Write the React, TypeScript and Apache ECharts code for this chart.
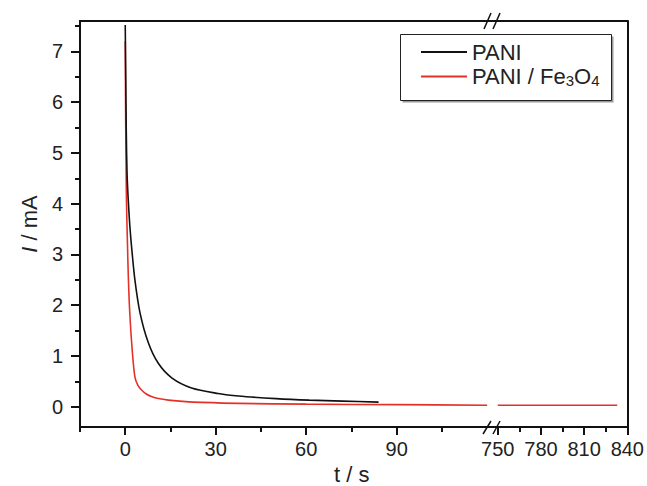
import React, { useEffect, useRef } from "react";
import * as echarts from "echarts";

// ---- data ----
const paniT = [0, 0.15, 0.35, 0.6, 1.0, 1.5, 2.1, 3.2, 4.9, 7.6, 10.9, 15.4, 22, 30.8, 37.5, 50, 61, 72, 84];
const paniI = [7.52, 6.6, 5.4, 4.6, 4.07, 3.58, 3.15, 2.5, 1.85, 1.27, 0.86, 0.57, 0.37, 0.26, 0.21, 0.16, 0.13, 0.11, 0.09];

const feT = [0, 0.15, 0.4, 0.7, 1.0, 1.5, 2.3, 3.2, 4.2, 5.4, 7, 8.7, 11, 14.3, 20, 25.3, 37.5, 60, 90, 120];
const feI = [7.2, 5.6, 4.07, 3.3, 2.6, 1.85, 1.12, 0.59, 0.42, 0.33, 0.25, 0.2, 0.16, 0.13, 0.1, 0.085, 0.065, 0.05, 0.04, 0.03];

const feT2 = [750, 790, 833];
const feI2 = [0.03, 0.03, 0.03];

const xLeftMajor = [0, 30, 60, 90];
const xLeftMinor = [-15, 15, 45, 75, 105];
const xRightMajor = [750, 780, 810, 840];
const xRightMinor = [765, 795, 825];
const yMajor = [0, 1, 2, 3, 4, 5, 6, 7];
const yMinor = [0.5, 1.5, 2.5, 3.5, 4.5, 5.5, 6.5, 7.5];

const FONT = "Liberation Sans, Arial, Helvetica, sans-serif";
const AX = "#111";
const TXT = "#222";
const RED = "#e5302a";

export default function App() {
  const ref = useRef<HTMLDivElement>(null);
  useEffect(() => {
    if (!ref.current) return;
    const chart = echarts.init(ref.current, undefined, { renderer: "svg" });
    const zip = (a: number[], b: number[]) => a.map((t, i) => [t, b[i]]);
    const line = { lineStyle: { color: AX, width: 2 }, onZero: false };
    const xMain = (grid: number, min: number, max: number, vals: number[]) => ({
      type: "value", gridIndex: grid, min, max, position: "bottom",
      axisLine: { show: true, ...line },
      axisTick: { show: true, customValues: vals, length: 8, inside: false, lineStyle: { color: AX, width: 2 } },
      axisLabel: { show: true, customValues: vals, fontSize: 20, color: TXT, fontFamily: FONT, margin: 12 },
      splitLine: { show: false },
    });
    const xMinor = (grid: number, min: number, max: number, vals: number[]) => ({
      type: "value", gridIndex: grid, min, max, position: "bottom",
      axisLine: { show: false, onZero: false },
      axisTick: { show: true, customValues: vals, length: 5, inside: false, lineStyle: { color: AX, width: 2 } },
      axisLabel: { show: false },
      splitLine: { show: false },
    });
    const xTop = (grid: number, min: number, max: number) => ({
      type: "value", gridIndex: grid, min, max, position: "top",
      axisLine: { show: true, ...line },
      axisTick: { show: false }, axisLabel: { show: false }, splitLine: { show: false },
    });
    const L0 = -15, L1 = 121.6, R0 = 746, R1 = 840;
    chart.setOption({
      animation: false,
      grid: [
        { left: 80, top: 21, width: 412, height: 406 },
        { left: 492, top: 21, width: 140, height: 406 },
      ],
      xAxis: [
        xMain(0, L0, L1, xLeftMajor),
        xMinor(0, L0, L1, xLeftMinor),
        xTop(0, L0, L1),
        xMain(1, R0, R1, xRightMajor),
        xMinor(1, R0, R1, xRightMinor),
        xTop(1, R0, R1),
      ],
      yAxis: [
        {
          type: "value", gridIndex: 0, min: -0.4, max: 7.6, position: "left",
          axisLine: { show: true, ...line },
          axisTick: { show: true, customValues: yMajor, length: 9, inside: false, lineStyle: { color: AX, width: 2 } },
          axisLabel: { show: true, customValues: yMajor, fontSize: 20, color: TXT, fontFamily: FONT, margin: 17 },
          splitLine: { show: false },
          name: "{i|I} / mA", nameLocation: "middle", nameGap: 30, nameRotate: 90,
          nameTextStyle: {
            fontSize: 22, color: TXT, fontFamily: FONT,
            rich: { i: { fontStyle: "italic", fontSize: 22, color: TXT, fontFamily: FONT } },
          },
        },
        {
          type: "value", gridIndex: 0, min: -0.4, max: 7.6, position: "left",
          axisLine: { show: false, onZero: false },
          axisTick: { show: true, customValues: yMinor, length: 5, inside: false, lineStyle: { color: AX, width: 2 } },
          axisLabel: { show: false }, splitLine: { show: false },
        },
        {
          type: "value", gridIndex: 1, min: -0.4, max: 7.6, position: "right",
          axisLine: { show: true, ...line },
          axisTick: { show: false }, axisLabel: { show: false }, splitLine: { show: false },
        },
      ],
      legend: {
        left: 416, top: 36, orient: "vertical", itemWidth: 46, itemHeight: 2, itemGap: 2.5, z: 10,
        icon: "rect",
        data: ["PANI", "PANI / Fe3O4"],
        formatter: (n: string) => (n === "PANI / Fe3O4" ? "PANI / Fe{sub|3}O{sub|4}" : n),
        textStyle: {
          fontSize: 22, color: TXT, fontFamily: FONT, lineHeight: 22,
          rich: { sub: { fontSize: 15, lineHeight: 12, verticalAlign: "bottom", color: TXT, fontFamily: FONT } },
        },
      },
      graphic: [
        { type: "rect", z: 1, shape: { x: 402.5, y: 36.5, width: 211, height: 66 }, style: { fill: "#9a9a9a" } },
        { type: "rect", z: 2, shape: { x: 400.5, y: 34.5, width: 211, height: 66 }, style: { fill: "#fff", stroke: "#222", lineWidth: 1 } },
        { type: "line", z: 20, shape: { x1: 484, y1: 29, x2: 491, y2: 13 }, style: { stroke: AX, lineWidth: 1.5 } },
        { type: "line", z: 20, shape: { x1: 493, y1: 29, x2: 500, y2: 13 }, style: { stroke: AX, lineWidth: 1.5 } },
        { type: "line", z: 20, shape: { x1: 483, y1: 434, x2: 491, y2: 421 }, style: { stroke: AX, lineWidth: 1.5 } },
        { type: "line", z: 20, shape: { x1: 493, y1: 434, x2: 500, y2: 421 }, style: { stroke: AX, lineWidth: 1.5 } },
        {
          type: "text", left: 334, top: 463, z: 20,
          style: { text: "t / s", fontSize: 22, fill: TXT, fontFamily: FONT },
        },
      ],
      series: [
        {
          name: "PANI", type: "line", xAxisIndex: 0, yAxisIndex: 0, data: zip(paniT, paniI),
          symbol: "none", smooth: 0.3, lineStyle: { color: AX, width: 1.6 }, itemStyle: { color: AX }, z: 3,
        },
        {
          name: "PANI / Fe3O4", type: "line", xAxisIndex: 0, yAxisIndex: 0, data: zip(feT, feI),
          symbol: "none", smooth: 0.3, lineStyle: { color: RED, width: 1.6 }, itemStyle: { color: RED }, z: 2,
        },
        {
          name: "PANI / Fe3O4", type: "line", xAxisIndex: 3, yAxisIndex: 2, data: zip(feT2, feI2),
          symbol: "none", lineStyle: { color: RED, width: 1.6 }, itemStyle: { color: RED }, z: 2,
        },
      ],
    });
    return () => chart.dispose();
  }, []);
  return <div ref={ref} style={{ position: "absolute", left: 0, top: 0, width: 647, height: 486 }} />;
}
